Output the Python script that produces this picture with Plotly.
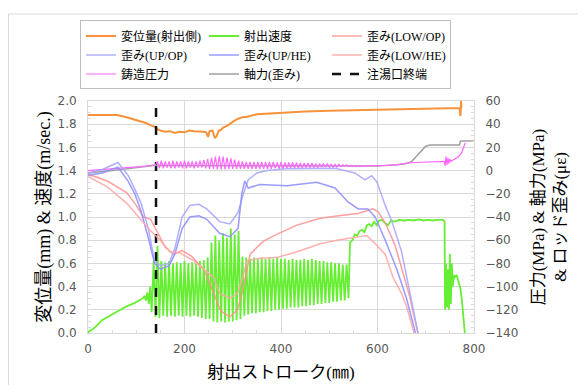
import plotly.graph_objects as go

# ---------------- data ----------------
# 変位量(射出側)  [mm] (left axis)
disp_x = [0, 20, 40, 60, 80, 100, 120, 130, 140, 145, 150, 160, 170, 180, 190, 200, 210, 220, 230, 240,
          245, 249, 252, 258, 263, 267, 271, 275, 280, 290, 300, 310, 320, 330, 350, 370, 400, 450, 500,
          550, 600, 650, 700, 750, 770, 772, 773, 774, 775]
disp_y = [1.88, 1.88, 1.885, 1.88, 1.86, 1.835, 1.81, 1.79, 1.775, 1.755, 1.745, 1.735, 1.74, 1.725, 1.735,
          1.73, 1.745, 1.74, 1.74, 1.735, 1.73, 1.69, 1.74, 1.745, 1.68, 1.70, 1.745, 1.75, 1.77, 1.79, 1.82,
          1.845, 1.86, 1.865, 1.885, 1.89, 1.90, 1.91, 1.915, 1.92, 1.925, 1.93, 1.93, 1.935, 1.94, 1.87,
          2.0, 1.94, 1.94]

# 射出速度 [m/sec.] (left axis)
vel_pre_x = [0, 3, 6, 10, 15, 29, 45, 63, 80, 97, 110, 114, 117, 120, 123, 126, 129]
vel_pre_y = [0.0, 0.02, 0.02, 0.03, 0.05, 0.11, 0.15, 0.19, 0.23, 0.26, 0.29, 0.30, 0.32, 0.28, 0.35, 0.25, 0.40]
vel_osc_x = list(range(132, 544, 4))
vel_osc_y = [0.18, 0.62, 0.14, 0.75, 0.13, 0.62, 0.15, 0.61, 0.14, 0.62,
             0.15, 0.60, 0.14, 0.61, 0.15, 0.60, 0.14, 0.62, 0.15, 0.60,
             0.14, 0.61, 0.15, 0.60, 0.14, 0.62, 0.13, 0.63, 0.12, 0.65,
             0.12, 0.78, 0.10, 0.84, 0.09, 0.80, 0.10, 0.86, 0.09, 0.82,
             0.10, 0.90, 0.10, 0.85, 0.11, 0.88, 0.12, 0.66, 0.15, 0.65,
             0.16, 0.64, 0.17, 0.65, 0.17, 0.64, 0.18, 0.65, 0.18, 0.64,
             0.19, 0.65, 0.19, 0.64, 0.20, 0.65, 0.20, 0.64, 0.21, 0.64,
             0.21, 0.63, 0.22, 0.64, 0.22, 0.63, 0.22, 0.63, 0.23, 0.64,
             0.23, 0.63, 0.24, 0.64, 0.24, 0.63, 0.25, 0.62, 0.25, 0.62,
             0.26, 0.61, 0.26, 0.61, 0.27, 0.60, 0.27, 0.60, 0.28, 0.59,
             0.28, 0.59, 0.30]
vel_post_x = [543, 548, 553, 558, 563, 568, 573, 578, 583, 588, 593, 598, 603, 609, 615, 622, 628, 635, 645,
              655, 665, 675, 685, 695, 705, 715, 725, 736, 739, 740, 742, 744, 746, 748, 750, 752, 754, 756,
              758, 760, 764, 768, 772, 775, 778, 781]
vel_post_y = [0.78, 0.80, 0.85, 0.84, 0.88, 0.89, 0.87, 0.93, 0.94, 0.92, 0.96, 0.93, 0.97, 0.975, 0.95, 0.93,
              0.97, 0.96, 0.975, 0.97, 0.975, 0.97, 0.98, 0.97, 0.975, 0.97, 0.975, 0.975, 0.96, 0.20, 0.60,
              0.22, 0.55, 0.20, 0.68, 0.25, 0.60, 0.40, 0.50, 0.48, 0.50, 0.45, 0.38, 0.28, 0.15, 0.0]

# 歪み (right axis)
low_op_x = [0, 40, 80, 100, 115, 130, 145, 160, 177, 195, 215, 240, 260, 275, 294, 310, 322, 336, 363, 391,
            433, 481, 520, 560, 590, 600, 616, 636, 650, 667, 682, 685]
low_op_y = [-3, -9, -19, -30, -40, -42, -54, -66, -72, -69, -74, -85, -105, -121, -126, -120, -101, -72, -61,
            -55, -47, -41, -39, -37, -33, -35, -45, -64, -84, -109, -137, -142]

low_he_x = [0, 40, 80, 110, 130, 145, 170, 191, 220, 260, 273, 294, 310, 322, 329, 357, 391, 433, 481, 516,
            550, 578, 595, 616, 632, 650, 661, 674, 677]
low_he_y = [-5, -14, -28, -43, -52, -58, -70, -71, -78, -92, -106, -110, -106, -90, -78, -75.5, -75, -70, -63,
            -60, -58, -56, -63, -72, -92, -106, -118, -137, -142]

up_op_x = [0, 30, 62, 83, 97, 110, 125, 138, 150, 168, 180, 195, 211, 230, 246, 273, 294, 311, 322, 332, 350,
           371, 412, 470, 512, 553, 574, 588, 599, 616, 630, 650, 665, 678, 685]
up_op_y = [-2, 1, 7, -4, -16, -28, -50, -78, -82, -80, -67, -40, -30, -29, -33, -44, -46, -36, -20, -8, -2,
           0, 1.5, 2, 2, -2, -8, -4.5, -10, -30, -44, -70, -100, -128, -142]

up_he_x = [0, 30, 62, 83, 97, 110, 125, 138, 150, 168, 180, 195, 211, 230, 246, 273, 294, 311, 319, 325, 332,
           356, 412, 474, 512, 539, 560, 580, 595, 616, 640, 660, 680]
up_he_y = [-4, -2, 3, -9, -20, -35, -58, -80, -85, -82, -72, -50, -40, -39, -42, -54, -57, -50, -19, -9, -15,
           -12, -13, -10, -15, -27, -33, -33, -40, -60, -85, -110, -142]

# 鋳造圧力 [MPa] (right axis)
pres_pre_x = [0, 40, 80, 110, 130, 140]
pres_pre_y = [0, 1, 2.5, 3.5, 4.5, 5]
pres_osc_x = list(range(144, 572, 4))
pres_osc_y = [8, 2, 8.5, 2, 8, 2.5, 8, 2, 8.5, 2,
              8, 2.5, 8, 2, 8.5, 2, 8, 2.5, 8, 2,
              8, 2.5, 8.5, 2.5, 9, 2, 10, 1.5, 11, 1.5,
              12, 1, 12.5, 1, 12, 1, 11.5, 1.5, 10.5, 1.5,
              9.5, 1.5, 8.5, 1.5, 8, 1.5, 7.5, 1.5, 7.5, 1.5,
              7.5, 1.5, 7.5, 1.5, 7.5, 1.5, 7.5, 1.5, 7.5, 1.5,
              7.5, 2, 7, 1.5, 7.5, 1.5, 7, 2, 7, 2,
              7, 2, 7, 2, 6.5, 2, 6.5, 2.5, 6.5, 2.5,
              6.5, 2.5, 6, 2.5, 6, 3, 6, 3, 6, 3,
              5.5, 3, 5.5, 3, 5.5, 3.5, 5, 3.5, 5, 3.5,
              4.5, 3.5, 4.5, 3.5, 4.5, 3.5, 4]
pres_post_x = [580, 600, 620, 640, 660, 680, 700, 720, 738, 740, 742, 744, 746, 748, 750, 752, 756, 762, 768,
               774, 778, 782]
pres_post_y = [4, 4, 4.5, 5, 6.5, 7, 7.5, 7.5, 8, 4, 12, 5, 11, 6, 10, 8, 9, 10, 12, 15, 19, 24]

# 軸力(歪み) (right axis)
axial_x = [0, 60, 140, 200, 300, 400, 500, 600, 640, 660, 671, 680, 690, 700, 709, 740, 770, 771, 772, 790, 802]
axial_y = [-2, 0.5, 4.5, 4.5, 4.5, 4, 4, 4, 5, 6, 8, 12, 17, 21, 22, 22, 22, 24, 25.5, 25.5, 25.5]

# 注湯口終端
gate_x = [141, 141]
gate_y = [0, 2.0]

# ---------------- figure ----------------
FONT = "Liberation Serif, Noto Sans CJK JP, serif"
TICKFONT = dict(family="DejaVu Sans, Verdana, sans-serif", size=12, color="#595959")

fig = go.Figure()

fig.add_trace(go.Scatter(x=disp_x, y=disp_y, mode="lines", name="変位量(射出側)",
                         line=dict(color="#F7923A", width=2), legendrank=1))
fig.add_trace(go.Scatter(x=vel_pre_x + vel_osc_x + vel_post_x, y=vel_pre_y + vel_osc_y + vel_post_y,
                         mode="lines", name="射出速度", line=dict(color="#66EE33", width=1.8), legendrank=2))
fig.add_trace(go.Scatter(x=axial_x, y=axial_y, yaxis="y2", mode="lines", name="軸力(歪み)",
                         line=dict(color="#A0A0A0", width=1.5), legendrank=8))
fig.add_trace(go.Scatter(x=pres_pre_x + pres_osc_x + pres_post_x, y=pres_pre_y + pres_osc_y + pres_post_y,
                         yaxis="y2", mode="lines", name="鋳造圧力",
                         line=dict(color="#FF66FF", width=1.2), legendrank=7))
fig.add_trace(go.Scatter(x=low_op_x, y=low_op_y, yaxis="y2", mode="lines", name="歪み(LOW/OP)",
                         line=dict(color="#FF9090", width=1.5), opacity=0.85, legendrank=3))
fig.add_trace(go.Scatter(x=up_op_x, y=up_op_y, yaxis="y2", mode="lines", name="歪み(UP/OP)",
                         line=dict(color="#A8A8FF", width=1.5), opacity=0.9, legendrank=4))
fig.add_trace(go.Scatter(x=up_he_x, y=up_he_y, yaxis="y2", mode="lines", name="歪み(UP/HE)",
                         line=dict(color="#9090FF", width=1.5), opacity=0.9, legendrank=5))
fig.add_trace(go.Scatter(x=low_he_x, y=low_he_y, yaxis="y2", mode="lines", name="歪み(LOW/HE)",
                         line=dict(color="#FFA8A8", width=1.5), opacity=0.9, legendrank=6))
fig.add_trace(go.Scatter(x=gate_x, y=gate_y, mode="lines", name="注湯口終端",
                         line=dict(color="#111111", width=2.5, dash="dash"), legendrank=9))

axis_common = dict(showline=True, linecolor="#D9D9D9", linewidth=1, mirror=True, ticks="",
                   tickfont=TICKFONT, zeroline=False, automargin=False)

fig.update_layout(
    width=586, height=385,
    margin=dict(l=80, r=120, t=89, b=60),
    paper_bgcolor="white", plot_bgcolor="white",
    font=dict(family=FONT, color="black"),
    xaxis=dict(range=[0, 800], dtick=200, tick0=0, showgrid=True, gridcolor="#D9D9D9",
               ticklabelstandoff=5,
               minor=dict(dtick=50, ticks="inside", ticklen=3, tickcolor="#D9D9D9", showgrid=False),
               title=dict(text="射出ストローク(㎜)", font=dict(family=FONT, size=17), standoff=10),
               **axis_common),
    yaxis=dict(range=[0, 2.0], dtick=0.2, tick0=0, tickformat=".1f", showgrid=True, gridcolor="#D9D9D9",
               ticklabelstandoff=8,
               minor=dict(dtick=0.05, ticks="inside", ticklen=3, tickcolor="#D9D9D9", showgrid=False),
               title=dict(text="変位量(mm) & 速度(m/sec.)", font=dict(family=FONT, size=18), standoff=2),
               **axis_common),
    yaxis2=dict(range=[-140, 60], dtick=20, tick0=-140, overlaying="y", side="right", showgrid=False,
                showline=True, linecolor="#D9D9D9", ticks="", tickfont=TICKFONT, zeroline=False,
                automargin=False, ticklabelstandoff=8,
                minor=dict(dtick=5, ticks="inside", ticklen=3, tickcolor="#D9D9D9"),
                title=dict(text="圧力(MPa) & 軸力(MPa)<br>& ロッド歪み(με)",
                           font=dict(family=FONT, size=17), standoff=14)),
    legend=dict(orientation="h", x=-0.0207, y=1.347, xanchor="left", yanchor="top",
                bgcolor="white", bordercolor="#BFBFBF", borderwidth=1,
                font=dict(family=FONT, size=12), entrywidth=78, entrywidthmode="pixels",
                traceorder="normal", itemwidth=30, tracegroupgap=0),
    shapes=[
        dict(type="line", xref="paper", yref="paper", x0=-0.206, x1=1.4, y0=1.375, y1=1.375,
             line=dict(color="#D9D9D9", width=1)),
        dict(type="line", xref="paper", yref="paper", x0=-0.206, x1=-0.206, y0=-0.3, y1=1.375,
             line=dict(color="#D9D9D9", width=1)),
    ],
)

fig.write_html("out.html")
